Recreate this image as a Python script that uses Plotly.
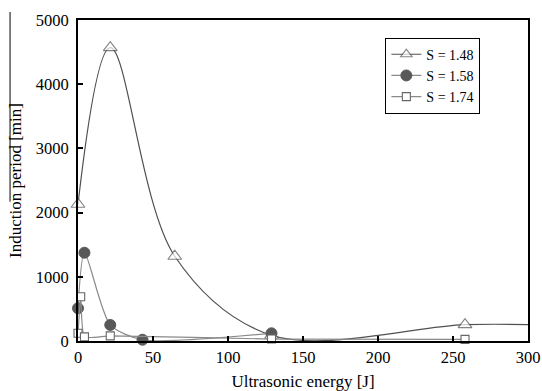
import plotly.graph_objects as go

# ---- data ----
energy_148 = [0, 21.5, 64.5, 129, 258]
period_148 = [2130, 4570, 1320, 90, 255]

energy_158 = [0, 4.3, 21.5, 43, 129]
period_158 = [510, 1375, 250, 20, 120]

energy_174 = [0, 1.8, 4.3, 21.5, 129, 258]
period_174 = [120, 690, 65, 80, 30, 25]

# fitted curve of S = 1.48 continues flat to the edge of the plot
tail_x_148 = 300
tail_y_148 = 255

x_ticks = [0, 50, 100, 150, 200, 250, 300]
y_ticks = [0, 1000, 2000, 3000, 4000, 5000]

FONT = "Liberation Serif"

fig = go.Figure()

line_x_148 = energy_148 + [tail_x_148]
line_y_148 = period_148 + [tail_y_148]
sizes_148 = [12] * len(energy_148) + [0]

fig.add_trace(go.Scatter(
    x=line_x_148, y=line_y_148, mode="lines+markers", name="S = 1.48",
    line=dict(color="#505050", width=1.2, shape="spline", smoothing=1),
    marker=dict(symbol="triangle-up", size=sizes_148, color="white",
                line=dict(color="#505050", width=1.1)),
    cliponaxis=False,
))
fig.add_trace(go.Scatter(
    x=energy_158, y=period_158, mode="lines+markers", name="S = 1.58",
    line=dict(color="#8a8a8a", width=1.2, shape="spline", smoothing=0.7),
    marker=dict(symbol="circle", size=11, color="#585858",
                line=dict(color="#585858", width=1)),
    cliponaxis=False,
))
fig.add_trace(go.Scatter(
    x=energy_174, y=period_174, mode="lines+markers", name="S = 1.74",
    line=dict(color="#8a8a8a", width=1.2, shape="spline", smoothing=0.5),
    marker=dict(symbol="square", size=8, color="white",
                line=dict(color="#666666", width=1.1)),
    cliponaxis=False,
))

axis_common = dict(
    showgrid=False, zeroline=False, showline=True, mirror=True,
    linecolor="black", linewidth=2, ticks="inside", ticklen=5,
    tickcolor="black", tickwidth=1.5, ticklabeloverflow="allow",
    tickfont=dict(family=FONT, size=16.5, color="black"),
)

fig.update_xaxes(
    range=[0, 300], tickvals=x_ticks,
    title=dict(text="Ultrasonic energy [J]",
               font=dict(family=FONT, size=17, color="black"), standoff=10),
    **axis_common,
)
fig.update_yaxes(
    range=[0, 5000], tickvals=y_ticks, ticklabelstandoff=4,
    title=dict(text="Induction period [min]",
               font=dict(family=FONT, size=17, color="black"), standoff=10),
    **axis_common,
)

fig.update_layout(
    width=542, height=391,
    margin=dict(l=78, r=14, t=20, b=50, autoexpand=False),
    paper_bgcolor="white", plot_bgcolor="white",
    font=dict(family=FONT, size=15, color="black"),
    legend=dict(
        x=0.683, y=0.945, xanchor="left", yanchor="top",
        bordercolor="black", borderwidth=1, bgcolor="white",
        font=dict(family=FONT, size=14, color="black"),
        itemwidth=30, tracegroupgap=0,
    ),
    shapes=[dict(type="line", xref="paper", yref="paper",
                 x0=-0.151, x1=-0.151, y0=1.025, y1=0.434,
                 line=dict(color="black", width=1))],
    showlegend=True,
)

# remove the browser's default page margin so the figure fills the window
fig.write_html(
    "out.html",
    config={"displayModeBar": False},
    post_script="document.body.style.margin='0';document.body.style.overflow='hidden';",
)
